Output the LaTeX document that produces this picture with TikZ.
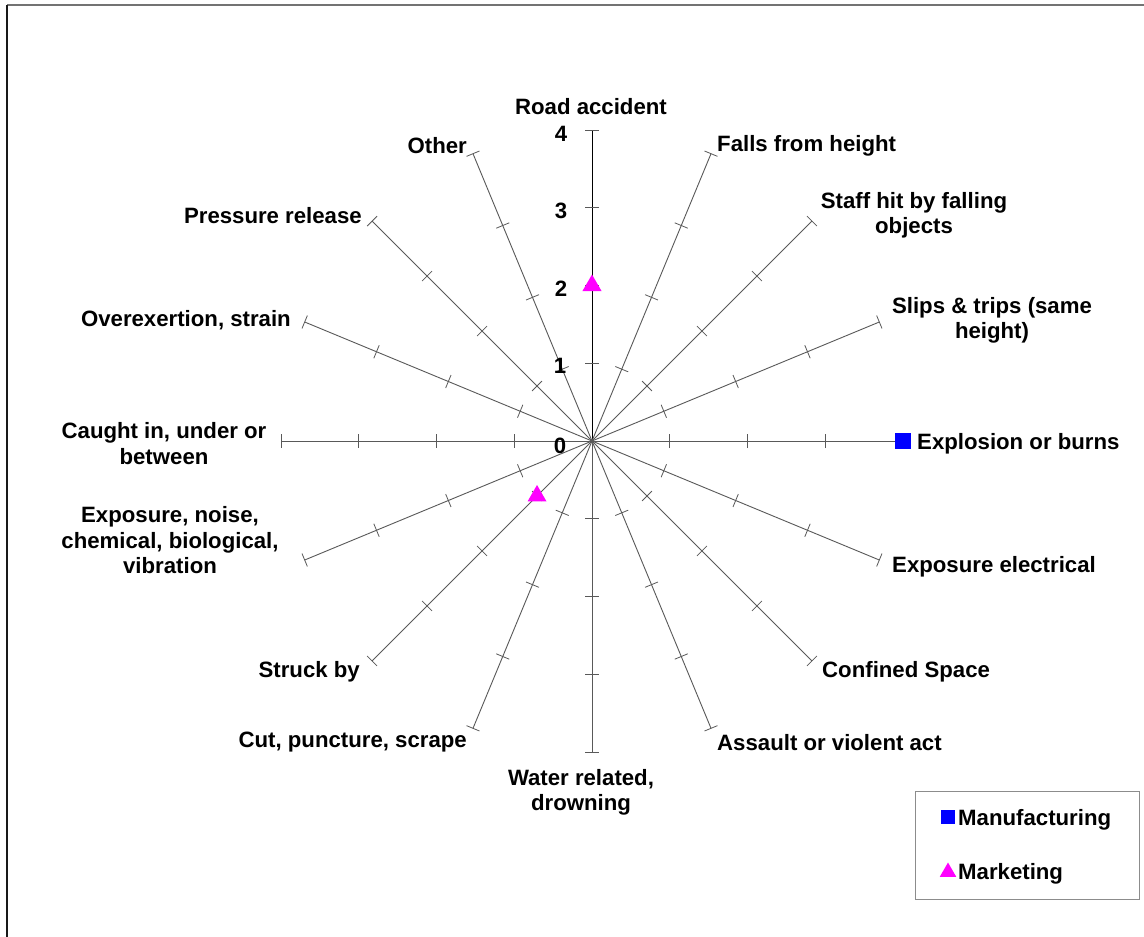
\documentclass[tikz,border=0pt]{standalone}
\usepackage{fontspec}
\setmainfont{Liberation Sans}
\usetikzlibrary{calc,shapes.geometric}
\definecolor{mktpink}{RGB}{255,0,255}
\definecolor{mfgblue}{RGB}{0,0,255}
\tikzset{
  axisline/.style={draw=black!65, line width=0.9pt},
  valaxis/.style={draw=black, line width=1pt},
  tickmark/.style={draw=black!65, line width=0.8pt},
  lbl/.style={font=\bfseries\fontsize{22.2}{25.5}\selectfont, inner sep=0pt, align=center, yshift=-2.5pt},
  mfg/.style={rectangle, fill=mfgblue, minimum size=16pt, inner sep=0pt},
  mkt/.style={regular polygon, regular polygon sides=3, fill=mktpink, minimum size=22pt, inner sep=0pt},
  legbox/.style={draw=black!45, line width=1pt},
}
\begin{document}
\begin{tikzpicture}[x=1pt,y=-1pt]
\useasboundingbox (0,0) rectangle (1144,937);
\fill[white] (0,0) rectangle (1144,937);
% outer frame
\draw[black!55, line width=1.2pt] (7,5) -- (1144,5);
\draw[black!90, line width=1.2pt] (7,5) -- (7,937);
\coordinate (O) at (592,441);
\def\R{311}
\def\U{77.75}
% axes
\foreach \a [count=\i] in {-90,-67.5,-45,-22.5,0,22.5,45,67.5,90,112.5,135,157.5,180,202.5,225,247.5}{
  \coordinate (e\i) at ($(O)+(\a:\R)$);
  \ifnum\i=1
    \draw[valaxis] (O) -- (e\i);
  \else
    \draw[axisline] (O) -- (e\i);
  \fi
  \foreach \k in {1,2,3,4}{
    \coordinate (t\i-\k) at ($(O)+(\a:\k*\U)$);
    \draw[tickmark] ($(t\i-\k)+(\a+90:7)$) -- ($(t\i-\k)+(\a-90:7)$);
  }
}
% value labels
\node[lbl] (v0) at (560,443) {0};
\node[lbl] (v1) at (560,363) {1};
\node[lbl] (v2) at (561,286) {2};
\node[lbl] (v3) at (561,208) {3};
\node[lbl] (v4) at (561,131) {4};
% category labels
\node[lbl] (lRoad) at (591,104) {Road accident};
\node[lbl, anchor=west] (lFalls) at (717,143) {Falls from height};
\node[lbl] (lStaff) at (914,213) {Staff hit by falling\\objects};
\node[lbl] (lSlips) at (992,318) {Slips \& trips (same\\height)};
\node[lbl, anchor=west] (lExpl) at (917,441) {Explosion or burns};
\node[lbl, anchor=west] (lElec) at (892,564) {Exposure electrical};
\node[lbl, anchor=west] (lConf) at (822,669) {Confined Space};
\node[lbl, anchor=west] (lAss) at (717,740) {Assault or violent act};
\node[lbl] (lWater) at (581,790) {Water related,\\drowning};
\node[lbl, anchor=east] (lCut) at (467,740) {Cut, puncture, scrape};
\node[lbl, anchor=east] (lStruck) at (360,669) {Struck by};
\node[lbl] (lNoise) at (170,538) {Exposure, noise,\\chemical, biological,\\vibration};
\node[lbl] (lCaught) at (164,441) {Caught in, under or\\between};
\node[lbl, anchor=east] (lOver) at (291,318) {Overexertion, strain};
\node[lbl, anchor=east] (lPress) at (362,213) {Pressure release};
\node[lbl, anchor=east] (lOther) at (467,143) {Other};
% data markers
\node[mfg] (m1) at (e5) {};
\node[mkt] (k1) at (t1-2) {};
\node[mkt] (k2) at (t11-1) {};
% legend
\draw[legbox] (915,791) rectangle (1139,899);
\node[mfg, minimum size=14pt] (legM) at (948,817) {};
\node[lbl, anchor=west] (legMt) at (958,817) {Manufacturing};
\node[mkt, minimum size=19pt] (legK) at (948,872) {};
\node[lbl, anchor=west] (legKt) at (958,871) {Marketing};
\end{tikzpicture}
\end{document}
